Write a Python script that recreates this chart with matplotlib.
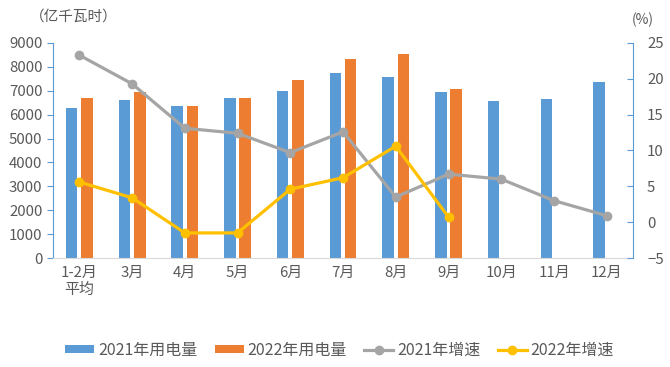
import matplotlib.pyplot as plt
import numpy as np

plt.rcParams['font.family'] = ['Noto Sans CJK SC', 'DejaVu Sans']

months = ['1-2月\n平均', '3月', '4月', '5月', '6月', '7月', '8月', '9月', '10月', '11月', '12月']
use_2021 = [6280, 6610, 6350, 6700, 6990, 7740, 7580, 6940, 6570, 6650, 7360]
use_2022 = [6700, 6940, 6350, 6690, 7440, 8320, 8530, 7070]
growth_2021 = [23.3, 19.3, 13.1, 12.4, 9.7, 12.6, 3.5, 6.7, 6.0, 3.0, 0.9]
growth_2022 = [5.6, 3.4, -1.5, -1.5, 4.6, 6.2, 10.6, 0.7]

blue = '#5B9BD5'
orange = '#ED7D31'
gray = '#A5A5A5'
yellow = '#FFC000'
text_c = '#595959'

fig = plt.figure(figsize=(6.7, 3.67), dpi=100)
ax = fig.add_axes([0.079, 0.297, 0.866, 0.586])
ax2 = ax.twinx()

x = np.arange(len(months))
w = 0.22
ax.bar(x - 0.145, use_2021, w, color=blue, label='2021年用电量', zorder=2)
ax.bar(np.arange(len(use_2022)) + 0.145, use_2022, w, color=orange, label='2022年用电量', zorder=2)

ax2.plot(x, growth_2021, color=gray, lw=2.3, marker='o', ms=6, label='2021年增速', zorder=3)
ax2.plot(np.arange(len(growth_2022)), growth_2022, color=yellow, lw=2.3, marker='o', ms=6, label='2022年增速', zorder=3)

ax.set_xlim(-0.5, len(months) - 0.5)
ax.set_ylim(0, 9000)
ax.set_yticks(range(0, 9001, 1000))
ax2.set_ylim(-5, 25)
ax2.set_yticks(range(-5, 26, 5))
ax.set_xticks(x)
ax.set_xticklabels(months)

for a in (ax, ax2):
    a.spines['top'].set_visible(False)
    a.tick_params(colors=text_c, labelsize=10.8)
ax.spines['right'].set_visible(False)
ax2.spines['left'].set_visible(False)
ax2.spines['bottom'].set_visible(False)
ax.spines['left'].set_color(blue)
ax2.spines['right'].set_color(blue)
ax.spines['bottom'].set_color('#D9D9D9')
ax.tick_params(axis='x', length=0, pad=6)
ax.tick_params(axis='y', color=blue, length=4)
ax2.tick_params(axis='y', color=blue, length=4, direction='in', pad=10)

fig.text(0.045, 0.955, '（亿千瓦时）', color=text_c, fontsize=10.5, va='center')
fig.text(0.943, 0.945, '(%)', color=text_c, fontsize=10, va='center')

h1, l1 = ax.get_legend_handles_labels()
h2, l2 = ax2.get_legend_handles_labels()
fig.legend(h1 + h2, l1 + l2, loc='center', bbox_to_anchor=(0.507, 0.045), ncol=4,
           frameon=False, fontsize=11.5, labelcolor=text_c, handlelength=1.8,
           handleheight=0.35, handletextpad=0.25, columnspacing=1.1)

fig.savefig('out.png', dpi=100)
